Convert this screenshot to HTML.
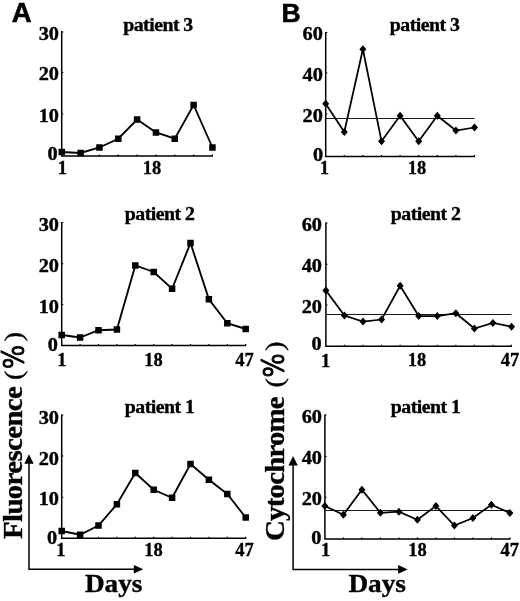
<!DOCTYPE html>
<html><head><meta charset="utf-8"><title>Figure</title>
<style>
html,body{margin:0;padding:0;background:#fff;}
svg{display:block;}
.s{font-family:"Liberation Serif","Times New Roman",serif;font-weight:bold;fill:#000;stroke:#000;stroke-width:0.35px;}
.a{font-family:"Liberation Sans",Arial,sans-serif;font-weight:bold;fill:#000;stroke:#000;stroke-width:0.6px;}
.t{font-size:18.5px;}
.p{font-size:18.7px;letter-spacing:-0.5px;}
.big{font-size:27px;}
.d{font-size:24.5px;}
</style></head><body>
<svg width="520" height="601" viewBox="0 0 520 601">
<rect width="520" height="601" fill="#fff"/>

<g stroke="#000" stroke-width="1.5" fill="none">
<path d="M61.7 31.1V156.1H212.94"/>
<path d="M80.63 156.1v-1.6M99.46 156.1v-1.6M118.29 156.1v-1.6M137.12 156.1v-1.6M155.95 156.1v-1.6M174.78 156.1v-1.6M193.61 156.1v-1.6M212.44 156.1v-1.6" stroke-width="1.2"/>
<path d="M61.7 32.00h1.6M61.7 72.50h1.6M61.7 114.00h1.6" stroke-width="1.2"/>
</g>
<polyline points="61.80,152.00 80.63,153.00 99.46,147.50 118.29,138.75 137.12,119.50 155.95,132.50 174.78,138.75 193.61,105.00 212.44,147.50" fill="none" stroke="#000" stroke-width="1.85" stroke-linejoin="miter"/>
<g fill="#000"><rect x="58.55" y="148.75" width="6.5" height="6.5"/><rect x="77.38" y="149.75" width="6.5" height="6.5"/><rect x="96.21" y="144.25" width="6.5" height="6.5"/><rect x="115.04" y="135.50" width="6.5" height="6.5"/><rect x="133.87" y="116.25" width="6.5" height="6.5"/><rect x="152.70" y="129.25" width="6.5" height="6.5"/><rect x="171.53" y="135.50" width="6.5" height="6.5"/><rect x="190.36" y="101.75" width="6.5" height="6.5"/><rect x="209.19" y="144.25" width="6.5" height="6.5"/></g>
<text class="s t" transform="translate(59 40) scale(1.1 1)" text-anchor="end">30</text>
<text class="s t" transform="translate(59 80) scale(1.1 1)" text-anchor="end">20</text>
<text class="s t" transform="translate(59 121.5) scale(1.1 1)" text-anchor="end">10</text>
<text class="s t" transform="translate(57.6 159.8) scale(1.1 1)" text-anchor="end">0</text>
<text class="s t" transform="translate(62.3 173.5) scale(1.0 1)" text-anchor="middle">1</text>
<text class="s t" transform="translate(152 173.75) scale(1.0 1)" text-anchor="middle">18</text>
<text class="s p" transform="translate(158 31.25) scale(1.06 1)" text-anchor="middle">patient 3</text>
<g stroke="#000" stroke-width="1.5" fill="none">
<path d="M61.7 222.0V345.6H246.2"/>
<path d="M80.10 345.6v-1.6M98.50 345.6v-1.6M116.90 345.6v-1.6M135.30 345.6v-1.6M153.70 345.6v-1.6M172.10 345.6v-1.6M190.50 345.6v-1.6M208.90 345.6v-1.6M227.30 345.6v-1.6M245.70 345.6v-1.6" stroke-width="1.2"/>
<path d="M61.7 222.50h1.6M61.7 263.75h1.6M61.7 304.50h1.6" stroke-width="1.2"/>
</g>
<polyline points="61.70,335.00 80.10,337.50 98.50,330.25 116.90,329.50 135.30,265.50 153.70,272.00 172.10,288.75 190.50,243.00 208.90,299.25 227.30,323.25 245.70,329.00" fill="none" stroke="#000" stroke-width="1.85" stroke-linejoin="miter"/>
<g fill="#000"><rect x="58.45" y="331.75" width="6.5" height="6.5"/><rect x="76.85" y="334.25" width="6.5" height="6.5"/><rect x="95.25" y="327.00" width="6.5" height="6.5"/><rect x="113.65" y="326.25" width="6.5" height="6.5"/><rect x="132.05" y="262.25" width="6.5" height="6.5"/><rect x="150.45" y="268.75" width="6.5" height="6.5"/><rect x="168.85" y="285.50" width="6.5" height="6.5"/><rect x="187.25" y="239.75" width="6.5" height="6.5"/><rect x="205.65" y="296.00" width="6.5" height="6.5"/><rect x="224.05" y="320.00" width="6.5" height="6.5"/><rect x="242.45" y="325.75" width="6.5" height="6.5"/></g>
<text class="s t" transform="translate(59 230.5) scale(1.1 1)" text-anchor="end">30</text>
<text class="s t" transform="translate(59 271.5) scale(1.1 1)" text-anchor="end">20</text>
<text class="s t" transform="translate(59 312.5) scale(1.1 1)" text-anchor="end">10</text>
<text class="s t" transform="translate(58 351.2) scale(1.1 1)" text-anchor="end">0</text>
<text class="s t" transform="translate(61.8 366.4) scale(1.0 1)" text-anchor="middle">1</text>
<text class="s t" transform="translate(153.5 366.25) scale(1.0 1)" text-anchor="middle">18</text>
<text class="s t" transform="translate(244.4 366.25) scale(1.0 1)" text-anchor="middle">47</text>
<text class="s p" transform="translate(159.6 219.5) scale(1.06 1)" text-anchor="middle">patient 2</text>
<g stroke="#000" stroke-width="1.5" fill="none">
<path d="M61.7 414.5V538.35H246.2"/>
<path d="M80.10 538.35v-1.6M98.50 538.35v-1.6M116.90 538.35v-1.6M135.30 538.35v-1.6M153.70 538.35v-1.6M172.10 538.35v-1.6M190.50 538.35v-1.6M208.90 538.35v-1.6M227.30 538.35v-1.6M245.70 538.35v-1.6" stroke-width="1.2"/>
<path d="M61.7 415.00h1.6M61.7 456.00h1.6M61.7 497.25h1.6" stroke-width="1.2"/>
</g>
<polyline points="61.70,531.00 80.10,534.75 98.50,525.50 116.90,504.25 135.30,473.00 153.70,489.75 172.10,497.75 190.50,464.00 208.90,479.75 227.30,494.00 245.70,517.50" fill="none" stroke="#000" stroke-width="1.85" stroke-linejoin="miter"/>
<g fill="#000"><rect x="58.45" y="527.75" width="6.5" height="6.5"/><rect x="76.85" y="531.50" width="6.5" height="6.5"/><rect x="95.25" y="522.25" width="6.5" height="6.5"/><rect x="113.65" y="501.00" width="6.5" height="6.5"/><rect x="132.05" y="469.75" width="6.5" height="6.5"/><rect x="150.45" y="486.50" width="6.5" height="6.5"/><rect x="168.85" y="494.50" width="6.5" height="6.5"/><rect x="187.25" y="460.75" width="6.5" height="6.5"/><rect x="205.65" y="476.50" width="6.5" height="6.5"/><rect x="224.05" y="490.75" width="6.5" height="6.5"/><rect x="242.45" y="514.25" width="6.5" height="6.5"/></g>
<text class="s t" transform="translate(59 423.5) scale(1.1 1)" text-anchor="end">30</text>
<text class="s t" transform="translate(59 464.5) scale(1.1 1)" text-anchor="end">20</text>
<text class="s t" transform="translate(59 505) scale(1.1 1)" text-anchor="end">10</text>
<text class="s t" transform="translate(57.2 543.7) scale(1.1 1)" text-anchor="end">0</text>
<text class="s t" transform="translate(60.8 555.8) scale(1.0 1)" text-anchor="middle">1</text>
<text class="s t" transform="translate(153.5 556) scale(1.0 1)" text-anchor="middle">18</text>
<text class="s t" transform="translate(244.4 556) scale(1.0 1)" text-anchor="middle">47</text>
<text class="s p" transform="translate(159.6 412.5) scale(1.06 1)" text-anchor="middle">patient 1</text>
<g stroke="#000" stroke-width="1.5" fill="none">
<path d="M325.7 32.0V156.6H475.0"/>
<path d="M344.30 156.6v-1.6M362.90 156.6v-1.6M381.50 156.6v-1.6M400.10 156.6v-1.6M418.70 156.6v-1.6M437.30 156.6v-1.6M455.90 156.6v-1.6M474.50 156.6v-1.6" stroke-width="1.2"/>
<path d="M325.7 32.50h1.6M325.7 73.00h1.6M325.7 114.00h1.6" stroke-width="1.2"/>
</g>
<path d="M325.7 118.5H474.5" stroke="#1a1a1a" stroke-width="1" fill="none"/>
<polyline points="325.70,103.75 344.30,132.00 362.90,49.25 381.50,141.25 400.10,115.75 418.70,141.25 437.30,115.75 455.90,130.50 474.50,127.50" fill="none" stroke="#000" stroke-width="1.75" stroke-linejoin="miter"/>
<g fill="#000"><path d="M325.70 99.85L329.20 103.75L325.70 107.65L322.20 103.75Z"/><path d="M344.30 128.10L347.80 132.00L344.30 135.90L340.80 132.00Z"/><path d="M362.90 45.35L366.40 49.25L362.90 53.15L359.40 49.25Z"/><path d="M381.50 137.35L385.00 141.25L381.50 145.15L378.00 141.25Z"/><path d="M400.10 111.85L403.60 115.75L400.10 119.65L396.60 115.75Z"/><path d="M418.70 137.35L422.20 141.25L418.70 145.15L415.20 141.25Z"/><path d="M437.30 111.85L440.80 115.75L437.30 119.65L433.80 115.75Z"/><path d="M455.90 126.60L459.40 130.50L455.90 134.40L452.40 130.50Z"/><path d="M474.50 123.60L478.00 127.50L474.50 131.40L471.00 127.50Z"/></g>
<text class="s t" transform="translate(322.8 40) scale(1.1 1)" text-anchor="end">60</text>
<text class="s t" transform="translate(322.8 80.5) scale(1.1 1)" text-anchor="end">40</text>
<text class="s t" transform="translate(322.8 122) scale(1.1 1)" text-anchor="end">20</text>
<text class="s t" transform="translate(323.2 160.6) scale(1.1 1)" text-anchor="end">0</text>
<text class="s t" transform="translate(324.4 174) scale(1.0 1)" text-anchor="middle">1</text>
<text class="s t" transform="translate(417 174) scale(1.0 1)" text-anchor="middle">18</text>
<text class="s p" transform="translate(424.6 31.25) scale(1.06 1)" text-anchor="middle">patient 3</text>
<g stroke="#000" stroke-width="1.5" fill="none">
<path d="M325.9 222.5V346.3H512.0"/>
<path d="M344.46 346.3v-1.6M363.02 346.3v-1.6M381.58 346.3v-1.6M400.14 346.3v-1.6M418.70 346.3v-1.6M437.26 346.3v-1.6M455.82 346.3v-1.6M474.38 346.3v-1.6M492.94 346.3v-1.6M511.50 346.3v-1.6" stroke-width="1.2"/>
<path d="M325.9 223.00h1.6M325.9 264.25h1.6M325.9 305.00h1.6" stroke-width="1.2"/>
</g>
<path d="M325.9 314.5H511.5" stroke="#1a1a1a" stroke-width="1" fill="none"/>
<polyline points="325.90,290.50 344.46,315.50 363.02,321.50 381.58,319.50 400.14,285.75 418.70,316.00 437.26,316.00 455.82,313.25 474.38,328.50 492.94,323.00 511.50,326.75" fill="none" stroke="#000" stroke-width="1.75" stroke-linejoin="miter"/>
<g fill="#000"><path d="M325.90 286.60L329.40 290.50L325.90 294.40L322.40 290.50Z"/><path d="M344.46 311.60L347.96 315.50L344.46 319.40L340.96 315.50Z"/><path d="M363.02 317.60L366.52 321.50L363.02 325.40L359.52 321.50Z"/><path d="M381.58 315.60L385.08 319.50L381.58 323.40L378.08 319.50Z"/><path d="M400.14 281.85L403.64 285.75L400.14 289.65L396.64 285.75Z"/><path d="M418.70 312.10L422.20 316.00L418.70 319.90L415.20 316.00Z"/><path d="M437.26 312.10L440.76 316.00L437.26 319.90L433.76 316.00Z"/><path d="M455.82 309.35L459.32 313.25L455.82 317.15L452.32 313.25Z"/><path d="M474.38 324.60L477.88 328.50L474.38 332.40L470.88 328.50Z"/><path d="M492.94 319.10L496.44 323.00L492.94 326.90L489.44 323.00Z"/><path d="M511.50 322.85L515.00 326.75L511.50 330.65L508.00 326.75Z"/></g>
<text class="s t" transform="translate(322 230.5) scale(1.1 1)" text-anchor="end">60</text>
<text class="s t" transform="translate(322 271.5) scale(1.1 1)" text-anchor="end">40</text>
<text class="s t" transform="translate(322 312.5) scale(1.1 1)" text-anchor="end">20</text>
<text class="s t" transform="translate(321.7 349.8) scale(1.1 1)" text-anchor="end">0</text>
<text class="s t" transform="translate(325.6 366.6) scale(1.0 1)" text-anchor="middle">1</text>
<text class="s t" transform="translate(417 366.25) scale(1.0 1)" text-anchor="middle">18</text>
<text class="s t" transform="translate(510 366.25) scale(1.0 1)" text-anchor="middle">47</text>
<text class="s p" transform="translate(425.6 219.5) scale(1.06 1)" text-anchor="middle">patient 2</text>
<g stroke="#000" stroke-width="1.5" fill="none">
<path d="M324.9 414.5V539H510.4"/>
<path d="M343.40 539v-1.6M361.90 539v-1.6M380.40 539v-1.6M398.90 539v-1.6M417.40 539v-1.6M435.90 539v-1.6M454.40 539v-1.6M472.90 539v-1.6M491.40 539v-1.6M509.90 539v-1.6" stroke-width="1.2"/>
<path d="M324.9 415.00h1.6M324.9 456.50h1.6M324.9 497.25h1.6" stroke-width="1.2"/>
</g>
<path d="M324.9 510.5H509.9" stroke="#1a1a1a" stroke-width="1" fill="none"/>
<polyline points="324.90,506.00 343.40,514.75 361.90,489.75 380.40,512.75 398.90,511.75 417.40,519.75 435.90,506.00 454.40,525.50 472.90,518.00 491.40,504.75 509.90,513.00" fill="none" stroke="#000" stroke-width="1.75" stroke-linejoin="miter"/>
<g fill="#000"><path d="M324.90 502.10L328.40 506.00L324.90 509.90L321.40 506.00Z"/><path d="M343.40 510.85L346.90 514.75L343.40 518.65L339.90 514.75Z"/><path d="M361.90 485.85L365.40 489.75L361.90 493.65L358.40 489.75Z"/><path d="M380.40 508.85L383.90 512.75L380.40 516.65L376.90 512.75Z"/><path d="M398.90 507.85L402.40 511.75L398.90 515.65L395.40 511.75Z"/><path d="M417.40 515.85L420.90 519.75L417.40 523.65L413.90 519.75Z"/><path d="M435.90 502.10L439.40 506.00L435.90 509.90L432.40 506.00Z"/><path d="M454.40 521.60L457.90 525.50L454.40 529.40L450.90 525.50Z"/><path d="M472.90 514.10L476.40 518.00L472.90 521.90L469.40 518.00Z"/><path d="M491.40 500.85L494.90 504.75L491.40 508.65L487.90 504.75Z"/><path d="M509.90 509.10L513.40 513.00L509.90 516.90L506.40 513.00Z"/></g>
<text class="s t" transform="translate(322 423) scale(1.1 1)" text-anchor="end">60</text>
<text class="s t" transform="translate(322 464) scale(1.1 1)" text-anchor="end">40</text>
<text class="s t" transform="translate(322 505) scale(1.1 1)" text-anchor="end">20</text>
<text class="s t" transform="translate(321.3 544.3) scale(1.1 1)" text-anchor="end">0</text>
<text class="s t" transform="translate(325.6 556.2) scale(1.0 1)" text-anchor="middle">1</text>
<text class="s t" transform="translate(417.5 556) scale(1.0 1)" text-anchor="middle">18</text>
<text class="s t" transform="translate(509.7 556) scale(1.0 1)" text-anchor="middle">47</text>
<text class="s p" transform="translate(425.6 412.5) scale(1.06 1)" text-anchor="middle">patient 1</text>
<text class="a" x="11.8" y="21.8" font-size="27.5">A</text>
<text class="a" x="281.4" y="22.4" font-size="26.5">B</text>
<path d="M29 460.3V569.2H138.3" stroke="#000" stroke-width="1.5" fill="none"/>
<path d="M29 454.3l4.7 9.4h-9.4z"/>
<path d="M143.3 569.2l-9.5 -4.3v8.6z"/>
<path d="M293.1 462V569.4H402.7" stroke="#000" stroke-width="1.5" fill="none"/>
<path d="M293.1 456l4.7 9.4h-9.4z"/>
<path d="M407.7 569.4l-9.5 -4.3v8.6z"/>
<text class="s" font-size="24.8" transform="translate(84.9 591.6) scale(1.1 1)">Days</text>
<text class="s" font-size="24.8" transform="translate(348.4 592.4) scale(1.1 1)">Days</text>
<g transform="translate(21.5 538.5) rotate(-90)">
<text class="s big" transform="translate(-0.5 0) scale(1.07 1)" letter-spacing="-0.6">Fluorescence</text>
<text transform="translate(158.6 0.5) scale(1.1 1)" font-family="Liberation Serif,serif" font-size="26" fill="#000" stroke="#000" stroke-width="0.3">(</text>
<text transform="translate(167.75 2.15) scale(1 1.11)" font-family="NanumGothic,DejaVu Sans,sans-serif" font-size="25.3" fill="#000" stroke="#000" stroke-width="0.9">%</text>
<text transform="translate(196.9 0.5) scale(1.1 1)" font-family="Liberation Serif,serif" font-size="26" fill="#000" stroke="#000" stroke-width="0.3">)</text>
</g>
<g transform="translate(283.5 538.5) rotate(-90)">
<text class="s big" transform="translate(-2.5 0) scale(1.07 1)" letter-spacing="-0.75">Cytochrome</text>
<text transform="translate(150.9 -1) scale(1.1 1)" font-family="Liberation Serif,serif" font-size="26" fill="#000" stroke="#000" stroke-width="0.3">(</text>
<text transform="translate(159.35 0.65) scale(1 1.11)" font-family="NanumGothic,DejaVu Sans,sans-serif" font-size="25.3" fill="#000" stroke="#000" stroke-width="0.9">%</text>
<text transform="translate(187.6 -1) scale(1.1 1)" font-family="Liberation Serif,serif" font-size="26" fill="#000" stroke="#000" stroke-width="0.3">)</text>
</g>
</svg></body></html>
